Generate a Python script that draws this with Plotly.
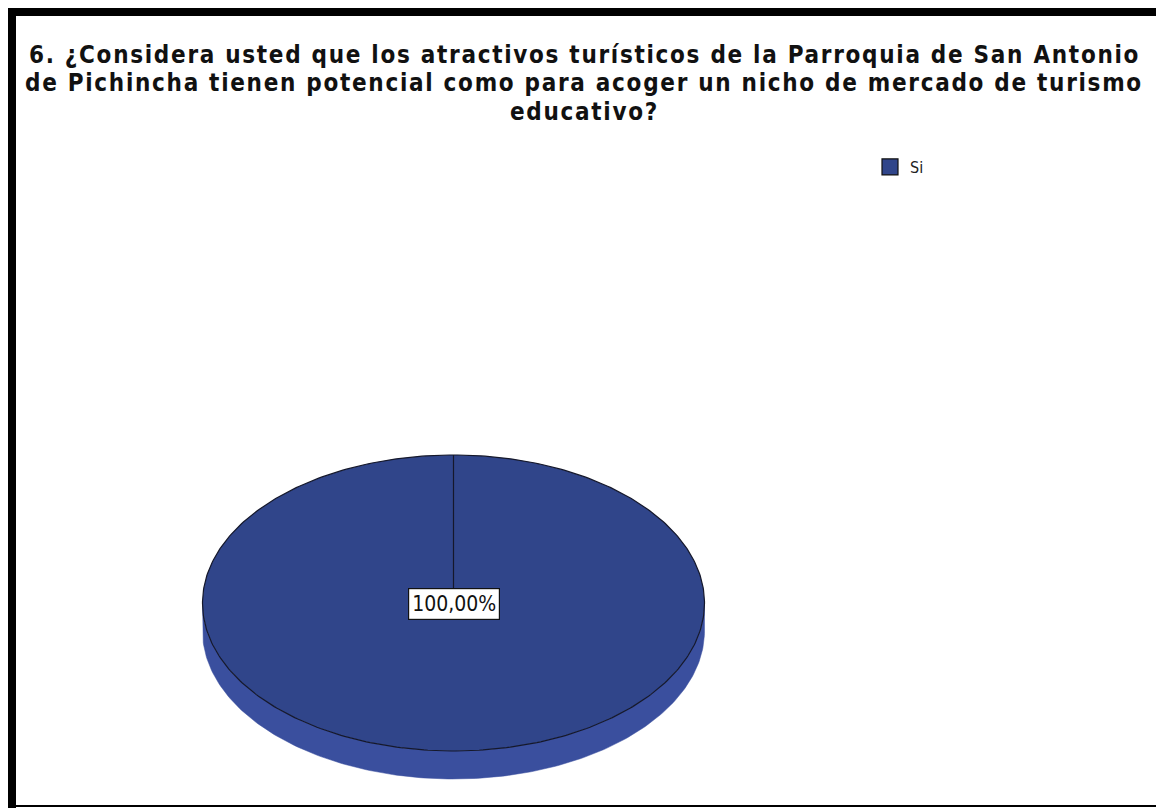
import numpy as np
import plotly.graph_objects as go

# ---- data ----
categories = ["Si"]
values = [100]
title_lines = [
    "6. ¿Considera usted que los atractivos turísticos de la Parroquia de San Antonio",
    "de Pichincha tienen potencial como para acoger un nicho de mercado de turismo",
    "educativo?",
]

# ---- style / geometry (reference pixel coordinates) ----
OFF = 8                      # page body margin
W, H = 1164 - OFF, 808 - OFF
CX, CY, RX, RY, DEPTH = 453.5, 603, 251, 148, 28
TOP_COLORS = ["#30458A"]
SIDE_COLORS = ["#3A4F9E"]
EDGE = "#15182b"
FONT = "DejaVu Sans Condensed, Liberation Sans Narrow, Arial Narrow, Liberation Sans, Arial"

total = float(sum(values))
fracs = [v / total for v in values]


def pt(theta, dy=0.0):
    # theta: radians, clockwise from 12 o'clock
    return CX + RX * np.sin(theta), CY - RY * np.cos(theta) + dy


fig = go.Figure()

# side walls (front half only)
start = 0.0
for i, f in enumerate(fracs):
    a0, a1 = start, start + 2 * np.pi * f
    s0, s1 = max(a0, np.pi / 2), min(a1, 3 * np.pi / 2)
    if s1 > s0:
        th = np.linspace(s0, s1, 200)
        xs_top, ys_top = pt(th)
        xs_bot, ys_bot = pt(th[::-1], DEPTH)
        fig.add_trace(go.Scatter(
            x=np.concatenate([xs_top, xs_bot, xs_top[:1]]),
            y=np.concatenate([ys_top, ys_bot, ys_top[:1]]),
            mode="lines", fill="toself", fillcolor=SIDE_COLORS[i % len(SIDE_COLORS)],
            line=dict(color=SIDE_COLORS[i % len(SIDE_COLORS)], width=0.5),
            hoverinfo="skip", showlegend=False))
    start = a1

# top faces (wedges)
start = 0.0
label_pos = []
for i, f in enumerate(fracs):
    a0, a1 = start, start + 2 * np.pi * f
    th = np.linspace(a0, a1, 400)
    xs, ys = pt(th)
    fig.add_trace(go.Scatter(
        x=np.concatenate([[CX], xs, [CX]]),
        y=np.concatenate([[CY], ys, [CY]]),
        mode="lines", fill="toself", fillcolor=TOP_COLORS[i % len(TOP_COLORS)],
        line=dict(color=EDGE, width=1.2),
        hoverinfo="skip", showlegend=False))
    if f >= 0.999:
        label_pos.append((CX, CY + 1))
    else:
        mid = (a0 + a1) / 2
        label_pos.append((CX + 0.6 * RX * np.sin(mid), CY - 0.6 * RY * np.cos(mid)))
    start = a1

# legend entries
for i, c in enumerate(categories):
    fig.add_trace(go.Scatter(
        x=[None], y=[None], mode="markers", name=c,
        marker=dict(symbol="square", size=17, color=TOP_COLORS[i % len(TOP_COLORS)],
                    line=dict(color="#111", width=1.2))))

# labels
for (lx, ly), f in zip(label_pos, fracs):
    txt = f"{f * 100:.2f}".replace(".", ",") + "%"
    fig.add_annotation(x=lx, y=ly, xref="x", yref="y", text=txt, showarrow=False,
                       font=dict(family=FONT, size=21, color="#111"),
                       bgcolor="white", bordercolor="#111", borderwidth=1.2, borderpad=3)

# title (one annotation per line, reference line spacing)
title_y = [54, 82.5, 111]
for t, yy in zip(title_lines, title_y):
    fig.add_annotation(x=584, y=yy, xref="x", yref="y",
                       text=f"<b><span style='letter-spacing:1.7px'>{t}</span></b>",
                       showarrow=False, xanchor="center", yanchor="middle",
                       height=27, valign="middle",
                       font=dict(family=FONT, size=24, color="#111"))

# frame
fig.add_shape(type="rect", x0=8, x1=1164, y0=8, y1=16, xref="x", yref="y",
              fillcolor="black", line_width=0, layer="above")
fig.add_shape(type="rect", x0=8, x1=16, y0=8, y1=808, xref="x", yref="y",
              fillcolor="black", line_width=0, layer="above")
fig.add_shape(type="rect", x0=8, x1=1164, y0=805, y1=807, xref="x", yref="y",
              fillcolor="black", line_width=0, layer="above")

fig.update_layout(
    width=W, height=H, margin=dict(l=0, r=0, t=0, b=0),
    paper_bgcolor="white", plot_bgcolor="white",
    xaxis=dict(range=[OFF, 1164], visible=False, fixedrange=True),
    yaxis=dict(range=[808, OFF], visible=False, fixedrange=True),
    showlegend=True,
    legend=dict(x=(870 - OFF) / W, y=1 - (167 - OFF) / H, xanchor="left", yanchor="middle",
                font=dict(family=FONT, size=16, color="#222"),
                bgcolor="rgba(0,0,0,0)", itemwidth=30),
)

fig.write_html("out.html")
